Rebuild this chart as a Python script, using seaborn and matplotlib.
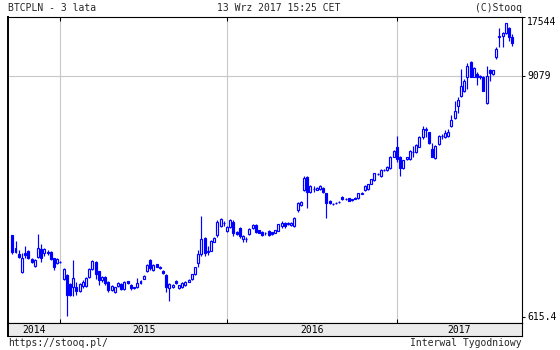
import numpy as np
import pandas as pd
import matplotlib
matplotlib.use("Agg")
import matplotlib.pyplot as plt
import matplotlib.transforms as mtransforms
import seaborn as sns

# ---------------- data (weekly OHLC, PLN) ----------------
start_date = "2014-09-19"

open_ = [1537, 1275, 1239, 1014, 1262, 1285, 1172, 1091, 1207, 1310,
         1252, 1271, 1267, 1185, 1120, 1141, 937, 983, 889, 858,
         860, 826, 872, 870, 965, 1049, 1141, 1028, 930, 965,
         913, 832, 815, 870, 886, 839, 916, 880, 856, 860,
         896, 944, 1033, 1163, 1040, 1108, 1079, 1028, 983, 848,
         860, 920, 850, 858, 880, 913, 937, 990, 1125,
         1239, 1488, 1270, 1290, 1427, 1537, 1706, 1765, 1609, 1688,
         1784, 1595, 1657, 1466, 1466, 1554, 1657, 1720, 1626, 1595,
         1565, 1613, 1583, 1580, 1615, 1706, 1752, 1739, 1720, 1706,
         2033, 2150, 2542, 2949, 2494, 2560, 2551, 2570, 2612, 2450,
         2256, 2174, 2200, 2215, 2359, 2310, 2320, 2298, 2310, 2320,
         2431, 2528, 2570, 2733, 2852, 3030, 2972, 3170, 3178,
         3239, 3688, 4123, 3688, 3260, 3581, 3581, 3890, 3872, 4123,
         4609, 4990, 4840, 4006, 3621, 4235, 4640, 4609, 4660, 5193,
         5662, 6516, 7237, 7653, 8950, 10577, 9009, 9284, 9110, 9009,
         6718, 9707, 9284, 11186, 14100, 14146, 14626, 15463, 14081]

high = [1540, 1438, 1300, 1257, 1359, 1300, 1193, 1176, 1554, 1390,
        1329, 1300, 1285, 1189, 1185, 1155, 1063, 994, 899, 1163,
        913, 899, 930, 962, 1063, 1163, 1150, 1034, 972, 972,
        920, 880, 865, 905, 895, 920, 925, 889, 865, 951,
        930, 983, 1112, 1176, 1112, 1117, 1087, 1040, 994, 896,
        889, 930, 884, 905, 920, 944, 994, 1075, 1300,
        1901, 1500, 1362, 1454, 1510, 1818, 1859, 1800, 1700, 1838,
        1818, 1608, 1682, 1537, 1503, 1663, 1739, 1739, 1635, 1608,
        1590, 1626, 1598, 1635, 1748, 1798, 1778, 1785, 1785, 1880,
        2231, 2248, 2972, 2972, 2688, 2658, 2630, 2680, 2630, 2472,
        2273, 2199, 2223, 2240, 2377, 2325, 2325, 2310, 2340, 2458,
        2490, 2688, 2730, 2890, 3090, 3080, 3213, 3213, 3323,
        3712, 3973, 4660, 3712, 3573, 3690, 3973, 4169, 4245, 4640,
        5193, 5150, 4880, 4281, 4201, 4698, 4777, 4967, 5005, 5874,
        6847, 7158, 9818, 8780, 10460, 10770, 10040, 9470, 9230, 9110,
        10114, 9818, 9760, 12490, 15463, 14800, 16400, 15692, 14500]

low = [1243, 1264, 1193, 1006, 1193, 1176, 1125, 1079, 1189, 1141,
       1216, 1230, 1163, 1040, 1112, 1120, 930, 624, 778, 780,
       786, 813, 850, 860, 955, 1040, 940, 880, 909, 880,
       815, 823, 808, 860, 832, 832, 889, 832, 840, 852,
       889, 937, 1022, 1046, 1028, 1070, 1055, 1000, 815, 737,
       850, 889, 841, 850, 870, 905, 930, 983, 1079,
       1216, 1216, 1230, 1280, 1415, 1503, 1682, 1700, 1590, 1663,
       1520, 1537, 1487, 1422, 1430, 1537, 1644, 1572, 1565, 1520,
       1537, 1520, 1537, 1565, 1600, 1663, 1663, 1720, 1700, 1690,
       1995, 2126, 2514, 2086, 2458, 2486, 2528, 2555, 2472, 1853,
       2174, 2150, 2174, 2199, 2273, 2273, 2240, 2248, 2300, 2298,
       2420, 2514, 2542, 2718, 2825, 3000, 2940, 3143, 3160,
       3210, 3656, 3462, 2981, 3231, 3560, 3553, 3688, 3840, 4090,
       4476, 4577, 4247, 3676, 3597, 4201, 4490, 4541, 4593, 5135,
       5600, 6005, 7202, 7600, 7851, 8950, 8930, 8235, 8740, 7640,
       6643, 8616, 9180, 10970, 12490, 12490, 14500, 13460, 12730]

close = [1275, 1329, 1203, 1189, 1230, 1185, 1141, 1163, 1333, 1185,
         1310, 1262, 1176, 1079, 1172, 1133, 1051, 786, 786, 954,
         826, 886, 913, 951, 1055, 1155, 994, 930, 962, 896,
         832, 872, 856, 896, 839, 909, 896, 848, 847, 902,
         920, 972, 1100, 1066, 1100, 1079, 1066, 1011, 860, 889,
         880, 896, 877, 896, 909, 930, 990, 1073, 1239,
         1479, 1252, 1280, 1438, 1495, 1784, 1831, 1752, 1688, 1818,
         1575, 1554, 1520, 1520, 1470, 1644, 1720, 1595, 1580, 1537,
         1572, 1537, 1554, 1626, 1733, 1766, 1706, 1766, 1766, 1865,
         2191, 2231, 2897, 2494, 2658, 2570, 2612, 2658, 2494, 2191,
         2191, 2180, 2210, 2225, 2298, 2305, 2256, 2273, 2320, 2450,
         2472, 2672, 2708, 2873, 3070, 3040, 3178, 3185, 3300,
         3688, 3942, 3581, 3260, 3553, 3664, 3942, 3905, 4201, 4609,
         5005, 5022, 4281, 3688, 4155, 4646, 4670, 4788, 4874, 5555,
         6162, 6946, 8147, 8616, 10181, 9009, 9928, 8950, 8950, 7704,
         9110, 9356, 9707, 12272, 14200, 14626, 16351, 13988, 13077]

ytick_values = [615.4, 9079, 17544]
ytick_labels = ["615.4", "9079", "17544"]
y_bottom, y_top = 575.7, 17544

title_left = "BTCPLN - 3 lata"
title_mid = "13 Wrz 2017 15:25 CET"
title_right = "(C)Stooq"
footer_left = "https://stooq.pl/"
footer_right = "Interwal Tygodniowy"

# ---------------- styling ----------------
sns.set_theme(style="white")
plt.rcParams["font.family"] = ["DejaVu Sans Mono", "DejaVu Sans"]
BLUE = "#0000ff"
GRID = "#c8c8c8"
FS = 7

df = pd.DataFrame({"open": open_, "high": high, "low": low, "close": close})
df["date"] = pd.date_range(start_date, periods=len(df), freq="7D")
df["idx"] = np.arange(len(df))
years = df["date"].dt.year.values
bounds = list(np.where(years[1:] != years[:-1])[0] + 1)

W, H = 560, 350
def rect(x0, y0, x1, y1):
    return [x0 / W, 1 - y1 / H, (x1 - x0) / W, (y1 - y0) / H]

fig = plt.figure(figsize=(W / 100, H / 100), dpi=100)
fig.patch.set_facecolor("white")
ax = fig.add_axes(rect(8, 17, 522, 323))
ax_s = fig.add_axes(rect(8, 323, 522, 335.7))

step_px = 3.205
x0 = -(12.3 - 8) / step_px
x1 = (522 - 12.3) / step_px
ax.set_xlim(x0, x1)
ax_s.set_xlim(x0, x1)

ax.set_yscale("log")
ax.set_ylim(y_bottom, y_top)
ax.set_facecolor("white")

# grid
for b in bounds:
    ax.axvline(b, color=GRID, lw=0.8, zorder=0)
ax.axhline(ytick_values[1], color=GRID, lw=0.8, zorder=0)

# candles
up = (df["close"] >= df["open"]).values
bottom = np.minimum(df["open"], df["close"]).values
height = np.maximum(np.abs(df["close"] - df["open"]).values, 1e-6)
ax.vlines(df["idx"], df["low"], df["high"], color=BLUE, lw=0.85, zorder=2)
ax.bar(df["idx"][up], height[up], bottom=bottom[up], width=0.62,
       facecolor="white", edgecolor=BLUE, linewidth=0.85, zorder=3)
ax.bar(df["idx"][~up], height[~up], bottom=bottom[~up], width=0.62,
       facecolor=BLUE, edgecolor=BLUE, linewidth=0.85, zorder=3)

# axes ticks
ax.yaxis.set_minor_locator(matplotlib.ticker.NullLocator())
ax.yaxis.tick_right()
ax.set_yticks(ytick_values)
ax.tick_params(axis="y", which="both", direction="out", length=2.5, width=0.75,
               color="black", labelright=False, right=True, left=False)
trans = mtransforms.blended_transform_factory(ax.transAxes, ax.transData)
for v, lab in zip(ytick_values, ytick_labels):
    va = "top" if v == y_top else "center"
    ax.text(1 + 5 / 514, v, lab, transform=trans, ha="left", va=va,
            fontsize=FS, color="black")

ax.set_xticks(bounds)
ax.tick_params(axis="x", direction="in", length=3, width=0.75, color="black",
               top=True, bottom=True, labelbottom=False, labeltop=False)
for side, sp in ax.spines.items():
    sp.set_color("black")
    sp.set_linewidth(0.8)
    sp.set_visible(True)
ax.spines["left"].set_linewidth(1.4)
ax.grid(False)

# date strip
ax_s.set_facecolor("#ebebeb")
ax_s.set_yticks([])
ax_s.set_xticks([])
for side, sp in ax_s.spines.items():
    sp.set_color("black")
    sp.set_linewidth(0.8)
    sp.set_visible(True)
ax_s.spines["left"].set_linewidth(1.4)
edges = [x0] + bounds + [x1]
labels_years = [years[0]] + [years[b] for b in bounds]
strans = mtransforms.blended_transform_factory(ax_s.transData, ax_s.transAxes)
for a, b, yr in zip(edges[:-1], edges[1:], labels_years):
    ax_s.text((a + b) / 2, 0.45, str(yr), transform=strans, ha="center",
              va="center", fontsize=FS, color="black")

# titles and footer
fig.text(8 / W, 1 - 8.4 / H, title_left, ha="left", va="center", fontsize=FS)
fig.text(279 / W, 1 - 8.4 / H, title_mid, ha="center", va="center", fontsize=FS)
fig.text(522 / W, 1 - 8.4 / H, title_right, ha="right", va="center", fontsize=FS)
fig.text(8 / W, 1 - 343.5 / H, footer_left, ha="left", va="center", fontsize=FS)
fig.text(522 / W, 1 - 343.5 / H, footer_right, ha="right", va="center", fontsize=FS)

fig.savefig("out.png", dpi=100, facecolor="white")
